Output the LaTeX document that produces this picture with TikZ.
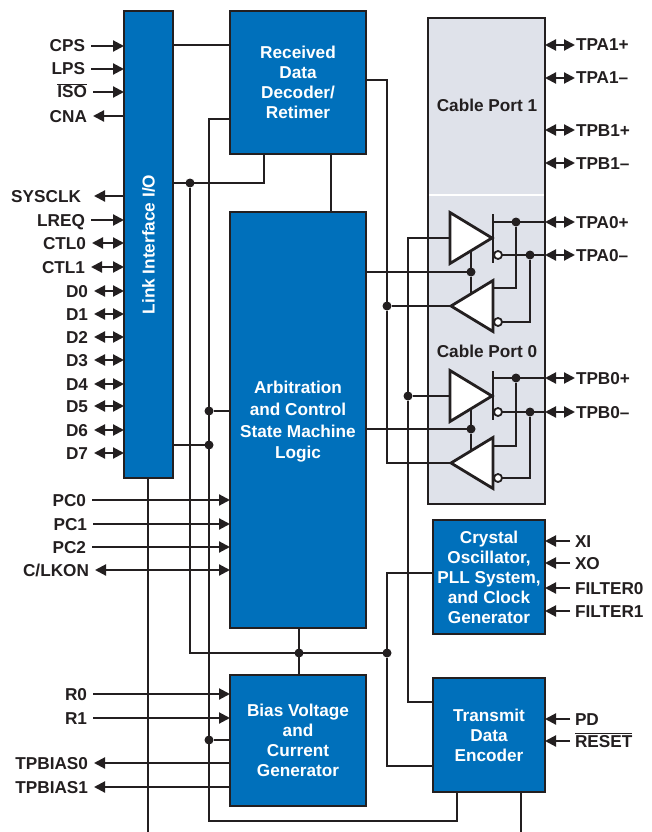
\documentclass[tikz,border=0pt]{standalone}
\usepackage{fontspec}
\setmainfont{Liberation Sans}
\usetikzlibrary{arrows.meta, shapes.geometric}
\definecolor{inkdark}{HTML}{231F20}
\definecolor{blockblue}{HTML}{0070BB}
\definecolor{portgray}{HTML}{DFE2EA}
\newcommand{\inv}[1]{$\overline{\hbox{#1}}$}

\begin{document}
\begin{tikzpicture}[x=1pt, y=-1pt, >={Triangle[length=11pt,width=11pt]},
every node/.style = {font=\fontsize{17.2}{20}\selectfont\bfseries, text=inkdark, outer sep=0pt},
block/.style = {shape=rectangle, draw=inkdark, line width=2.5pt, fill=blockblue, text=white, align=center, inner sep=0pt, text depth=-2pt},
port/.style = {shape=rectangle, draw=inkdark, line width=2.5pt, fill=portgray, minimum width=117pt, minimum height=486pt},
wire/.style = {draw=inkdark, line width=2.1pt},
sig/.style = {wire},
sigleft/.style = {anchor=east, inner xsep=6pt, inner ysep=0pt, text height=12pt, text depth=0pt},
sigright/.style = {anchor=west, inner xsep=1pt, inner ysep=0pt, text height=12pt, text depth=0pt},
sigcrystal/.style = {sigright, inner xsep=5pt},
dot/.style = {shape=circle, fill=inkdark, inner sep=0pt, minimum size=9pt},
bubble/.style = {shape=circle, draw=inkdark, fill=white, line width=1.8pt, inner sep=0pt, minimum size=8pt},
outbar/.style = {shape=rectangle, fill=inkdark, inner sep=0pt, minimum width=2.1pt, minimum height=49pt},
amp/.style = {shape=isosceles triangle, isosceles triangle stretches, draw=inkdark, fill=white, line width=2.8pt, inner sep=0pt, minimum width=51pt, minimum height=42pt, anchor=apex}]
\useasboundingbox (0,0) rectangle (651,832);

\node [port] (port) at (486.5,261) {};
\draw [white, line width=2pt, shorten <=1.3pt, shorten >=1.3pt] (port.west |- 0,195) -- (port.east |- 0,195);
\node at (487,105) {Cable Port 1};
\node at (487,351) {Cable Port 0};

\node [block, minimum width=49pt, minimum height=467pt] (link) at (148.5,244.5) {};
\node [rotate=90, text=white] at (link.center) {Link Interface I/O};
\node [block, minimum width=136pt, minimum height=143pt] (rcvd) at (298,82.5) {Received\\Data\\Decoder/\\Retimer};
\node [block, minimum width=136pt, minimum height=416pt] (arb) at (298,420) {Arbitration\\[1.7pt]and Control\\[1.7pt]State Machine\\[1.7pt]Logic};
\node [block, minimum width=136pt, minimum height=131pt] (bias) at (298,740.5) {Bias Voltage\\and\\Current\\Generator};
\node [block, minimum width=112pt, minimum height=114pt] (osc) at (489,577) {Crystal\\Oscillator,\\PLL System,\\and Clock\\Generator};
\node [block, minimum width=112pt, minimum height=114pt] (enc) at (489,735) {Transmit\\Data\\Encoder};

\node [dot] (dotclk) at (190,183) {};
\node [dot] (dotarb) at (209,411) {};
\node [dot] (dotlink) at (209,445) {};
\node [dot] (dotbias) at (209,740) {};
\node [dot] (dotpwr) at (299,653) {};
\node [dot] (dotcom) at (387,653) {};
\node [dot] (dottx) at (387,306) {};
\node [dot] (dotrx) at (408,396) {};
\node [dot] (enaa) at (471,272) {};
\node [dot] (enab) at (471,429) {};
\node [dot] (dotap) at (516,222) {};
\node [dot] (dotan) at (530,255) {};
\node [dot] (dotbp) at (516,378) {};
\node [dot] (dotbn) at (530,412) {};
\coordinate (exitlink) at (148,832);
\coordinate (exitenc) at (521,832);

\node [amp] (drva) at (492,238) {};
\node [amp, shape border rotate=180] (drvb) at (451,306) {};
\node [amp] (drvc) at (492,396) {};
\node [amp, shape border rotate=180] (drvd) at (451,463) {};
\node [outbar] (bara) at (493,238.5) {};
\node [outbar] (barc) at (493,395) {};

\draw [wire] (link.east |- 0,45) -- (rcvd.west |- 0,45);
\draw [wire] (link.east |- dotclk) -- (264,183) -- (rcvd.south -| 264,0);
\draw [wire] (rcvd.south -| 331,0) -- (arb.north -| 331,0);
\draw [wire] (dotclk) |- (dotcom);
\draw [wire] (arb.south -| dotpwr) -- (bias.north -| dotpwr);
\draw [wire] (rcvd.west |- 0,119) -- (209,119) -- (209,821) -- (457,821) -- (enc.south -| 457,0);
\draw [wire] (dotarb) -- (arb.west |- dotarb);
\draw [wire] (dotlink) -- (link.east |- dotlink);
\draw [wire] (dotbias) -- (bias.west |- dotbias);
\draw [wire] (link.south -| exitlink) -- (exitlink);
\draw [wire] (enc.south -| exitenc) -- (exitenc);
\draw [wire] (rcvd.east |- 0,80) -| (dottx);
\draw [wire] (dottx) -- (drvb.apex);
\draw [wire] (dottx) |- (drvd.apex);
\draw [wire] (drva.lower side) -| (dotrx);
\draw [wire] (dotrx) -- (drvc.lower side);
\draw [wire] (dotrx) |- (enc.west |- 0,702);
\draw [wire] (osc.west |- 0,573) -| (dotcom);
\draw [wire] (dotcom) |- (enc.west |- 0,766);
\draw [wire] (arb.east |- enaa) -- (enaa);
\draw [wire] (arb.east |- enab) -- (enab);
\draw [wire] (enaa) -- ++(0,-21);
\draw [wire] (enaa) -- ++(0,21);
\draw [wire] (enab) -- ++(0,-21);
\draw [wire] (enab) -- ++(0,21);

\draw [wire] (bara.east |- dotap) -- (port.east |- dotap);
\draw [wire] (bara.east |- dotan) -- (port.east |- dotan);
\draw [wire] (drvb.lower side |- 0,288) -| (dotap);
\draw [wire] (drvb.lower side |- 0,322) -| (dotan);
\draw [wire] (barc.east |- dotbp) -- (port.east |- dotbp);
\draw [wire] (barc.east |- dotbn) -- (port.east |- dotbn);
\draw [wire] (drvd.lower side |- 0,446) -| (dotbp);
\draw [wire] (drvd.lower side |- 0,478) -| (dotbn);

\node [bubble] (bubaa) at (498,255) {};
\node [bubble] (bubab) at (498,322) {};
\node [bubble] (bubca) at (498,412) {};
\node [bubble] (bubcb) at (498,478) {};

\node [sigleft] (cps) at (91,46) {CPS};
\node [sigleft] (lps) at (91,69) {LPS};
\node [sigleft] (iso) at (93,92) {\inv{ISO}};
\node [sigleft] (cna) at (93,116) {CNA};
\node [sigleft] (sysclk) at (87,196) {SYSCLK};
\node [sigleft] (lreq) at (91,220) {LREQ};
\node [sigleft] (ctla) at (92,243) {CTL0};
\node [sigleft] (ctlb) at (91,267) {CTL1};
\node [sigleft] (da) at (94,291) {D0};
\node [sigleft] (db) at (94,314) {D1};
\node [sigleft] (dc) at (94,337) {D2};
\node [sigleft] (dd) at (94,360) {D3};
\node [sigleft] (de) at (94,384) {D4};
\node [sigleft] (df) at (94,406) {D5};
\node [sigleft] (dg) at (94,430) {D6};
\node [sigleft] (dh) at (94,453) {D7};
\node [sigleft] (pca) at (92,500) {PC0};
\node [sigleft] (pcb) at (93,524) {PC1};
\node [sigleft] (pcc) at (92,547) {PC2};
\node [sigleft] (lkon) at (95,570) {C/LKON};
\node [sigleft] (ra) at (93,694) {R0};
\node [sigleft] (rb) at (93,718) {R1};
\node [sigleft] (tpbiasa) at (94,763) {TPBIAS0};
\node [sigleft] (tpbiasb) at (94,787) {TPBIAS1};

\draw [sig, ->] (cps.east) -- (link.west |- cps.east);
\draw [sig, ->] (lps.east) -- (link.west |- lps.east);
\draw [sig, ->] (iso.east) -- (link.west |- iso.east);
\draw [sig, <-] (cna.east) -- (link.west |- cna.east);
\draw [sig, <-] (sysclk.east) ++(7,0) -- (link.west |- sysclk.east);
\draw [sig, ->] (lreq.east) -- (link.west |- lreq.east);
\draw [sig, <->] (ctla.east) -- (link.west |- ctla.east);
\draw [sig, <->] (ctlb.east) -- (link.west |- ctlb.east);
\draw [sig, <->] (da.east) -- (link.west |- da.east);
\draw [sig, <->] (db.east) -- (link.west |- db.east);
\draw [sig, <->] (dc.east) -- (link.west |- dc.east);
\draw [sig, <->] (dd.east) -- (link.west |- dd.east);
\draw [sig, <->] (de.east) -- (link.west |- de.east);
\draw [sig, <->] (df.east) -- (link.west |- df.east);
\draw [sig, <->] (dg.east) -- (link.west |- dg.east);
\draw [sig, <->] (dh.east) -- (link.west |- dh.east);
\draw [sig, ->] (pca.east) -- (arb.west |- pca.east);
\draw [sig, ->] (pcb.east) -- (arb.west |- pcb.east);
\draw [sig, ->] (pcc.east) -- (arb.west |- pcc.east);
\draw [sig, <->] (lkon.east) -- (arb.west |- lkon.east);
\draw [sig, ->] (ra.east) -- (bias.west |- ra.east);
\draw [sig, ->] (rb.east) -- (bias.west |- rb.east);
\draw [sig, <-] (tpbiasa.east) -- (bias.west |- tpbiasa.east);
\draw [sig, <-] (tpbiasb.east) -- (bias.west |- tpbiasb.east);

\node [sigright] (tpaoneplus) at (575,45) {TPA1+};
\node [sigright] (tpaoneminus) at (575,78) {TPA1--};
\node [sigright] (tpboneplus) at (575,130) {TPB1+};
\node [sigright] (tpboneminus) at (575,163) {TPB1--};
\node [sigright] (tpazeroplus) at (575,222) {TPA0+};
\node [sigright] (tpazerominus) at (575,255) {TPA0--};
\node [sigright] (tpbzeroplus) at (575,378) {TPB0+};
\node [sigright] (tpbzerominus) at (575,412) {TPB0--};
\node [sigcrystal] (xi) at (570,541) {XI};
\node [sigcrystal] (xo) at (570,563) {XO};
\node [sigcrystal] (filtera) at (570,588) {FILTER0};
\node [sigcrystal] (filterb) at (570,611) {FILTER1};
\node [sigcrystal] (pd) at (570,719) {PD};
\node [sigcrystal] (reset) at (570,741) {\inv{RESET}};

\draw [sig, <->] (port.east |- tpaoneplus.west) -- (tpaoneplus.west);
\draw [sig, <->] (port.east |- tpaoneminus.west) -- (tpaoneminus.west);
\draw [sig, <->] (port.east |- tpboneplus.west) -- (tpboneplus.west);
\draw [sig, <->] (port.east |- tpboneminus.west) -- (tpboneminus.west);
\draw [sig, <->] (port.east |- tpazeroplus.west) -- (tpazeroplus.west);
\draw [sig, <->] (port.east |- tpazerominus.west) -- (tpazerominus.west);
\draw [sig, <->] (port.east |- tpbzeroplus.west) -- (tpbzeroplus.west);
\draw [sig, <->] (port.east |- tpbzerominus.west) -- (tpbzerominus.west);
\draw [sig, ->] (xi.west) -- (osc.east |- xi.west);
\draw [sig, ->] (xo.west) -- (osc.east |- xo.west);
\draw [sig, ->] (filtera.west) -- (osc.east |- filtera.west);
\draw [sig, ->] (filterb.west) -- (osc.east |- filterb.west);
\draw [sig, ->] (pd.west) -- (enc.east |- pd.west);
\draw [sig, ->] (reset.west) -- (enc.east |- reset.west);
\end{tikzpicture}
\end{document}
